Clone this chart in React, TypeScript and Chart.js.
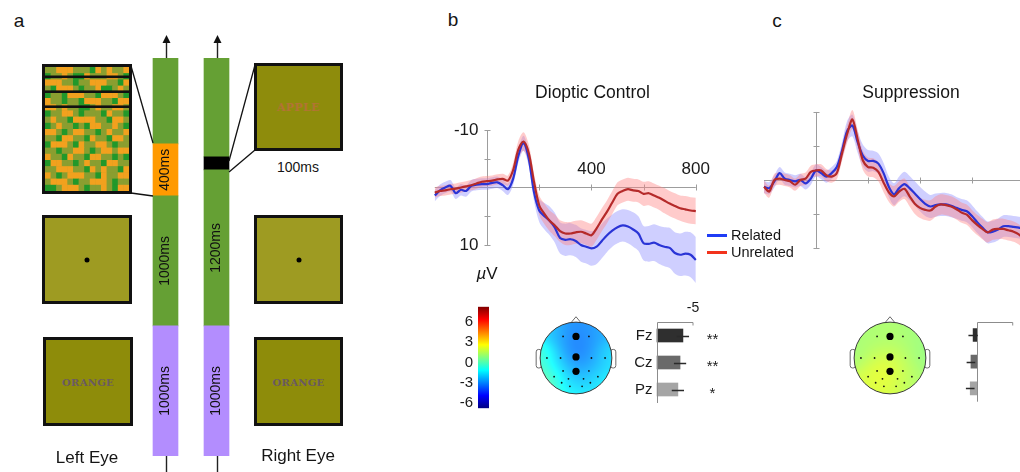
import React, { useEffect, useRef } from "react";
import { Chart, registerables } from "chart.js";

Chart.register(...registerables);

const FONT = '"Liberation Sans", Arial, Helvetica, sans-serif';

// ---------------- ERP data (ms, µV; negative up) ----------------
const TIMES = [-200, -180, -160, -140, -120, -100, -80, -60, -40, -20, 0, 20, 40, 60, 80, 100, 120, 140, 160, 180, 200, 220, 240, 260, 280, 300, 320, 340, 360, 380, 400, 420, 440, 460, 480, 500, 520, 540, 560, 580, 600, 620, 640, 660, 680, 700, 720, 740, 760, 780, 800];

const B_RELATED = [1.4, 0.5, 0.0, -0.3, 1.0, 0.4, 0.6, -0.3, -0.5, -0.6, -0.6, -0.8, -0.9, -0.4, 0.3, -1.5, -5.5, -7.7, -5.0, 0.8, 4.0, 5.0, 5.8, 7.0, 8.8, 9.1, 9.0, 9.3, 10.0, 10.3, 10.6, 10.3, 9.3, 8.3, 7.5, 6.9, 6.6, 6.8, 7.3, 8.0, 9.7, 9.8, 9.6, 10.0, 10.3, 10.5, 11.4, 11.7, 11.5, 11.7, 12.6];
const B_RELATED_SEM = [1.0, 1.0, 1.0, 1.0, 1.0, 1.0, 1.0, 1.0, 1.0, 1.0, 1.0, 1.0, 1.0, 1.0, 1.0, 1.1, 1.2, 1.3, 1.3, 1.5, 2.0, 2.3, 2.5, 2.6, 2.7, 2.8, 2.8, 2.8, 2.9, 2.9, 3.0, 3.0, 3.0, 2.9, 2.8, 2.8, 2.8, 2.9, 3.0, 3.0, 3.0, 3.1, 3.2, 3.3, 3.4, 3.5, 3.6, 3.7, 3.8, 3.9, 4.0];
const B_UNRELATED = [0.9, 0.6, 0.5, 0.3, 0.2, 0.0, -0.2, -0.4, -0.7, -1.0, -1.1, -1.2, -1.4, -1.5, -1.2, -3.0, -6.6, -8.0, -6.0, -1.0, 3.1, 4.6, 5.8, 6.6, 7.6, 8.0, 8.0, 7.8, 7.7, 8.0, 8.3, 7.1, 5.6, 4.2, 2.6, 1.1, 0.6, 0.3, 0.5, 0.6, 1.1, 1.0, 1.4, 1.8, 2.3, 2.8, 3.2, 3.6, 3.8, 4.0, 4.1];
const B_UNRELATED_SEM = [0.9, 0.9, 0.9, 0.9, 0.9, 0.9, 0.9, 0.9, 0.9, 0.9, 0.9, 0.9, 0.9, 0.9, 0.9, 1.2, 1.5, 1.6, 1.5, 1.5, 1.7, 1.8, 1.8, 1.9, 1.9, 2.0, 2.0, 2.0, 2.0, 2.0, 2.0, 2.0, 2.0, 2.0, 2.0, 2.0, 2.0, 2.0, 2.0, 2.0, 2.1, 2.1, 2.1, 2.1, 2.2, 2.2, 2.2, 2.2, 2.3, 2.3, 2.3];

const C_RELATED = [1.0, 1.2, 0.2, -1.0, -0.2, 0.0, 0.2, 0.0, 0.5, -0.2, -1.4, -1.0, -0.5, -1.0, -1.9, -4.3, -7.2, -8.0, -5.6, -3.6, -2.8, -2.8, -2.4, -1.0, 1.0, 2.1, 1.2, 0.6, 1.2, 2.0, 2.8, 3.5, 3.9, 3.7, 3.6, 3.6, 3.8, 4.1, 4.4, 4.6, 5.3, 6.2, 7.0, 7.7, 7.6, 7.3, 6.8, 6.8, 6.9, 7.0, 7.2];
const C_RELATED_SEM = [0.9, 0.9, 0.9, 0.9, 0.9, 0.9, 0.9, 0.9, 0.9, 0.9, 0.9, 0.9, 0.9, 0.9, 0.9, 1.2, 1.5, 1.6, 1.6, 1.6, 1.6, 1.5, 1.5, 1.5, 1.5, 1.6, 1.7, 1.8, 1.8, 1.8, 1.8, 1.8, 1.7, 1.7, 1.7, 1.7, 1.7, 1.6, 1.6, 1.6, 1.6, 1.6, 1.6, 1.6, 1.6, 1.6, 1.6, 1.6, 1.6, 1.6, 1.6];
const C_UNRELATED = [1.0, 1.7, 0.0, -0.2, 0.0, 0.2, 0.7, 0.0, -0.2, -1.2, -1.4, -1.4, -0.7, -0.5, -1.0, -3.9, -6.8, -8.9, -6.0, -2.9, -1.9, -1.8, -1.2, 0.4, 1.8, 2.4, 1.7, 1.3, 2.4, 3.5, 4.1, 4.4, 4.5, 3.9, 3.6, 3.7, 3.9, 4.3, 4.8, 5.1, 5.9, 6.6, 7.2, 7.7, 7.3, 7.2, 7.2, 7.4, 7.6, 8.0, 8.7];
const C_UNRELATED_SEM = [0.9, 0.9, 0.9, 0.9, 0.9, 0.9, 0.9, 0.9, 0.9, 0.9, 0.9, 0.9, 0.9, 0.9, 0.9, 1.1, 1.3, 1.4, 1.4, 1.4, 1.4, 1.4, 1.4, 1.4, 1.4, 1.5, 1.5, 1.5, 1.5, 1.5, 1.5, 1.5, 1.5, 1.5, 1.5, 1.5, 1.5, 1.5, 1.5, 1.5, 1.5, 1.5, 1.5, 1.5, 1.5, 1.5, 1.5, 1.5, 1.5, 1.5, 1.5];

const ERP_X_RANGE = [-200, 800];
const ERP_Y_RANGE = [-10, 10];
const ERP_Y_TICKS = [-10, -5, 5, 10];
const ERP_X_TICKS = [200, 400, 600, 800];
const B_Y_LABELED = [-10, 10];
const B_X_LABELED = [400, 800];

// ---------------- topographies ----------------
const ELEC_NAMES = ["F3", "Fz", "F4", "T7", "C3", "Cz", "C4", "T8", "P3", "Pz", "P4", "P7", "P1", "P2", "P8", "PO3", "PO4", "O1", "O2"];
const ELEC_X = [-0.36, 0, 0.36, -0.81, -0.43, 0, 0.43, 0.81, -0.36, 0, 0.36, -0.61, -0.21, 0.21, 0.61, -0.4, 0.4, -0.17, 0.17];
const ELEC_Y = [0.6, 0.6, 0.6, 0, 0, 0.03, 0, 0, -0.36, -0.37, -0.36, -0.52, -0.58, -0.58, -0.52, -0.69, -0.69, -0.79, -0.79];
const MARKED = ["Fz", "Cz", "Pz"];
const RIM_X = [0, 0.7, 1, 0.7, 0, -0.7, -1, -0.7];
const RIM_Y = [1, 0.7, 0, -0.7, -1, -0.7, 0, 0.7];
const B_TOPO = [-2.8, -3.4, -3.0, -0.8, -2.6, -3.4, -3.0, -1.8, -2.0, -3.2, -2.8, -0.2, -2.4, -2.6, -1.6, -1.0, -1.6, -1.4, -1.6];
const B_RIM = [-2.8, -2.4, -1.4, -0.6, -0.4, 1.8, 0.2, -1.8];
const C_TOPO = [1.2, 1.4, 1.2, 1.1, 1.6, 1.7, 1.4, 1.0, 2.3, 2.3, 1.8, 2.0, 2.6, 2.2, 1.2, 2.0, 1.5, 2.0, 1.7];
const C_RIM = [1.2, 1.0, 0.8, 1.1, 1.8, 1.9, 1.1, 1.2];

const CB_MIN = -6.74;
const CB_MAX = 8.2;
const CB_TICKS = [-6, -3, 0, 3, 6];

// ---------------- bar insets ----------------
const BAR_SITES = ["Fz", "Cz", "Pz"];
const BAR_COLORS = ["#2f2f2f", "#6a6a6a", "#a5a5a5"];
const B_BAR_VALUES = [-3.6, -3.2, -2.9];
const B_BAR_SEM = [0.85, 0.85, 0.85];
const B_BAR_STARS = ["**", "**", "*"];
const C_BAR_VALUES = [0.5, 0.8, 0.9];
const C_BAR_SEM = [0.65, 0.6, 0.6];
const BAR_TICK = -5;

// ---------------- panel a timeline (ms) ----------------
const EYES = ["Left Eye", "Right Eye"];
const SEG_BLANK = [1000, 1000];
const SEG_FIX = [1000, 1200];
const SEG_STIM = [400, 100];
const SEG_REST = [660, 760];
const SEG_LABELS = [["1000ms", "1000ms"], ["1000ms", "1200ms"], ["400ms", ""], ["", ""]];

const MOSAIC_ROWS = [
  "GGoooGGGgoGoGGo",
  "gGGoGggoGGGooGg",
  "oooGGgGGoooGGgo",
  "GgoooGgGGoggGoG",
  "gGGgoooGGgoooGg",
  "oGGgGGgoooGGgoo",
  "ooGoGGggGoGGooG",
  "gGGooGgGGGgoGGg",
  "GoGGgooooGGgooG",
  "gGoGGgGgooGGoGg",
  "ooGgGooGGgGoGGo",
  "GGgooGGgoGGgooG",
  "goooGgoGGooGgGG",
  "GGgGGooGgGooGoo",
  "oGGgoGGgooGGgGg",
  "gooGGgGoGGgooGG",
  "GGoooGGgoGoGGgo",
  "oGgGoooGGgoGGoo",
  "GoooGgGGoooGgGG",
  "ggGoooGgGGoGgoo",
];
const MOSAIC_COLORS: Record<string, string> = { o: "#f2a11e", g: "#21982a", G: "#8a9e30" };

// ---------------- helpers ----------------
function clamp01(v: number) {
  return Math.max(0, Math.min(1, v));
}
function jet(t: number): [number, number, number] {
  t = clamp01(t);
  return [
    Math.round(255 * clamp01(1.5 - Math.abs(4 * t - 3))),
    Math.round(255 * clamp01(1.5 - Math.abs(4 * t - 2))),
    Math.round(255 * clamp01(1.5 - Math.abs(4 * t - 1))),
  ];
}

const baseOptions = {
  animation: false as const,
  responsive: false,
  maintainAspectRatio: false,
  events: [] as any[],
  plugins: { legend: { display: false }, tooltip: { enabled: false }, title: { display: false } },
};

function ChartCanvas(props: { left: number; top: number; width: number; height: number; config: () => any }) {
  const ref = useRef<HTMLCanvasElement>(null);
  useEffect(() => {
    const chart = new Chart(ref.current as HTMLCanvasElement, props.config());
    return () => chart.destroy();
  }, []);
  return (
    <canvas
      ref={ref}
      width={props.width}
      height={props.height}
      style={{ position: "absolute", left: props.left, top: props.top, width: props.width, height: props.height }}
    />
  );
}

// ---------------- ERP chart ----------------
function erpAxesPlugin(yLab: number[], xLab: number[]) {
  return {
    id: "erpAxes",
    beforeDatasetsDraw(chart: any) {
      const { ctx } = chart;
      const X = (v: number) => chart.scales.x.getPixelForValue(v);
      const Y = (v: number) => chart.scales.y.getPixelForValue(v);
      const x0 = Math.round(X(0)) + 0.5;
      const y0 = Math.round(Y(0)) + 0.5;
      ctx.save();
      ctx.strokeStyle = "#9d9d9d";
      ctx.lineWidth = 1;
      ctx.beginPath();
      ctx.moveTo(X(ERP_X_RANGE[0]), y0);
      ctx.lineTo(X(ERP_X_RANGE[1]), y0);
      ctx.moveTo(x0, Y(ERP_Y_RANGE[0]));
      ctx.lineTo(x0, Y(ERP_Y_RANGE[1]));
      ERP_Y_TICKS.forEach((v) => {
        const yy = Math.round(Y(v)) + 0.5;
        ctx.moveTo(x0 - 3, yy);
        ctx.lineTo(x0 + 3, yy);
      });
      ERP_X_TICKS.forEach((v) => {
        const xx = Math.round(X(v)) + 0.5;
        ctx.moveTo(xx, y0 - 3);
        ctx.lineTo(xx, y0 + 3);
      });
      ctx.stroke();
      ctx.fillStyle = "#1a1a1a";
      ctx.font = `17px ${FONT}`;
      ctx.textBaseline = "middle";
      ctx.textAlign = "right";
      yLab.forEach((v) => ctx.fillText(String(v), x0 - 9, Y(v)));
      ctx.textAlign = "center";
      xLab.forEach((v) => ctx.fillText(String(v), X(v), y0 - 18));
      ctx.restore();
    },
  };
}

function erpConfig(
  rel: number[], relSem: number[], unrel: number[], unrelSem: number[],
  xMin: number, xMax: number, yMin: number, yMax: number,
  yLab: number[], xLab: number[]
) {
  const pts = (v: number[]) => TIMES.map((t, i) => ({ x: t, y: v[i] }));
  const off = (a: number[], s: number[], k: number) => a.map((v, i) => v + k * s[i]);
  const band = { borderWidth: 0, pointRadius: 0, tension: 0.3 };
  return {
    type: "line",
    data: {
      datasets: [
        { ...band, order: 6, data: pts(off(rel, relSem, -1)), fill: false },
        { ...band, order: 5, data: pts(off(rel, relSem, 1)), fill: "-1", backgroundColor: "rgba(140,140,255,0.42)" },
        { ...band, order: 4, data: pts(off(unrel, unrelSem, -1)), fill: false },
        { ...band, order: 3, data: pts(off(unrel, unrelSem, 1)), fill: "-1", backgroundColor: "rgba(255,130,130,0.42)" },
        { order: 2, data: pts(rel), borderColor: "#2a34d6", borderWidth: 2.2, pointRadius: 0, tension: 0.3, fill: false },
        { order: 1, data: pts(unrel), borderColor: "#b52a2a", borderWidth: 2.2, pointRadius: 0, tension: 0.3, fill: false },
      ],
    },
    options: {
      ...baseOptions,
      layout: { padding: 0 },
      scales: {
        x: { type: "linear", min: xMin, max: xMax, display: false },
        y: { type: "linear", min: yMin, max: yMax, reverse: true, display: false },
      },
    },
    plugins: [erpAxesPlugin(yLab, xLab)],
  };
}

// ---------------- topography ----------------
function topoPlugin(vals: number[], rim: number[]) {
  return {
    id: "topoField",
    beforeDatasetsDraw(chart: any) {
      const { ctx } = chart;
      const cx = chart.scales.x.getPixelForValue(0);
      const cy = chart.scales.y.getPixelForValue(0);
      const r = chart.scales.x.getPixelForValue(1) - cx;
      ctx.save();
      ctx.strokeStyle = "#6a6a6a";
      ctx.fillStyle = "#ffffff";
      ctx.lineWidth = 1;
      [-1, 1].forEach((s) => {
        const xa = cx + s * r * 0.96;
        const xb = cx + s * r * 1.11;
        ctx.beginPath();
        ctx.roundRect(Math.min(xa, xb), cy - r * 0.24, Math.abs(xb - xa), r * 0.52, 2.5);
        ctx.fill();
        ctx.stroke();
      });
      ctx.beginPath();
      ctx.moveTo(cx - r * 0.15, cy - r * 0.97);
      ctx.lineTo(cx, cy - r * 1.15);
      ctx.lineTo(cx + r * 0.15, cy - r * 0.97);
      ctx.closePath();
      ctx.fill();
      ctx.stroke();

      const px = [...ELEC_X, ...RIM_X];
      const py = [...ELEC_Y, ...RIM_Y];
      const pv = [...vals, ...rim];
      const s2 = 2 * 0.3 * 0.3;
      const lift = 0.14;
      ctx.save();
      ctx.beginPath();
      ctx.arc(cx, cy, r, 0, Math.PI * 2);
      ctx.clip();
      for (let yy = Math.floor(cy - r); yy <= Math.ceil(cy + r); yy++) {
        for (let xx = Math.floor(cx - r); xx <= Math.ceil(cx + r); xx++) {
          const ux = (xx + 0.5 - cx) / r;
          const uy = -(yy + 0.5 - cy) / r;
          let sw = 0;
          let sv = 0;
          for (let k = 0; k < px.length; k++) {
            const d2 = (ux - px[k]) ** 2 + (uy - py[k]) ** 2;
            const w = Math.exp(-d2 / s2);
            sw += w;
            sv += w * pv[k];
          }
          const [R, G, B] = jet((sv / sw - CB_MIN) / (CB_MAX - CB_MIN));
          const m = (c: number) => Math.round(c + (255 - c) * lift);
          ctx.fillStyle = `rgb(${m(R)},${m(G)},${m(B)})`;
          ctx.fillRect(xx, yy, 1, 1);
        }
      }
      ctx.restore();
      ctx.beginPath();
      ctx.arc(cx, cy, r, 0, Math.PI * 2);
      ctx.strokeStyle = "#3a3a3a";
      ctx.lineWidth = 1;
      ctx.stroke();
      ctx.restore();
    },
  };
}

function topoConfig(vals: number[], rim: number[]) {
  const all = ELEC_NAMES.map((n, i) => ({ n, x: ELEC_X[i], y: ELEC_Y[i] }));
  const small = all.filter((e) => !MARKED.includes(e.n));
  const big = all.filter((e) => MARKED.includes(e.n));
  return {
    type: "scatter",
    data: {
      datasets: [
        { data: small.map((e) => ({ x: e.x, y: e.y })), pointRadius: 0.9, pointBackgroundColor: "#111", pointBorderWidth: 0 },
        { data: big.map((e) => ({ x: e.x, y: e.y })), pointRadius: 3.6, pointBackgroundColor: "#000", pointBorderWidth: 0 },
      ],
    },
    options: {
      ...baseOptions,
      layout: { padding: 0 },
      scales: {
        x: { type: "linear", min: -1.282, max: 1.282, display: false },
        y: { type: "linear", min: -1.282, max: 1.282, display: false },
      },
    },
    plugins: [topoPlugin(vals, rim)],
  };
}

// ---------------- colorbar ----------------
const colorbarPlugin = {
  id: "cbLabels",
  afterDatasetsDraw(chart: any) {
    const { ctx, chartArea } = chart;
    ctx.save();
    ctx.fillStyle = "#1a1a1a";
    ctx.font = `15px ${FONT}`;
    ctx.textAlign = "right";
    ctx.textBaseline = "middle";
    CB_TICKS.forEach((v) => ctx.fillText(String(v), chartArea.left - 5, chart.scales.y.getPixelForValue(v)));
    ctx.restore();
  },
};

function colorbarConfig() {
  return {
    type: "bar",
    data: {
      labels: ["µV"],
      datasets: [
        {
          data: [[CB_MIN, CB_MAX]],
          barPercentage: 1,
          categoryPercentage: 1,
          borderWidth: 0,
          backgroundColor: (c: any) => {
            const area = c.chart.chartArea;
            if (!area) return "#00f";
            const g = c.chart.ctx.createLinearGradient(0, area.bottom, 0, area.top);
            for (let i = 0; i <= 16; i++) {
              const [R, G, B] = jet(i / 16);
              g.addColorStop(i / 16, `rgb(${R},${G},${B})`);
            }
            return g;
          },
        },
      ],
    },
    options: {
      ...baseOptions,
      layout: { padding: { left: 38, right: 11, top: 6.7, bottom: 6.7 } },
      scales: {
        x: { display: false },
        y: { min: CB_MIN, max: CB_MAX, display: false },
      },
    },
    plugins: [colorbarPlugin],
  };
}

// ---------------- bar inset ----------------
function barPlugin(values: number[], sem: number[], showText: boolean, stars: string[] | null) {
  return {
    id: "barDeco",
    afterDatasetsDraw(chart: any) {
      const { ctx, chartArea } = chart;
      const X = (v: number) => chart.scales.x.getPixelForValue(v);
      const Y = (i: number) => chart.scales.y.getPixelForValue(i);
      const x0 = Math.round(X(0)) + 0.5;
      const top = Math.round(chartArea.top) + 0.5;
      const xt = X(BAR_TICK);
      ctx.save();
      ctx.strokeStyle = "#8c8c8c";
      ctx.lineWidth = 1;
      ctx.beginPath();
      ctx.moveTo(x0, chartArea.bottom);
      ctx.lineTo(x0, top);
      ctx.lineTo(xt, top);
      ctx.lineTo(xt, top + 3);
      ctx.stroke();
      ctx.strokeStyle = "#2a2a2a";
      ctx.lineWidth = 1.3;
      ctx.beginPath();
      values.forEach((v, i) => {
        const yc = Math.round(Y(i)) + 0.5;
        ctx.moveTo(X(v - sem[i]), yc);
        ctx.lineTo(X(v + sem[i]), yc);
      });
      ctx.stroke();
      ctx.fillStyle = "#1a1a1a";
      ctx.textBaseline = "middle";
      if (showText) {
        ctx.font = `14px ${FONT}`;
        ctx.textAlign = "center";
        ctx.fillText(String(BAR_TICK), xt, chartArea.top - 14);
        ctx.font = `15px ${FONT}`;
        ctx.textAlign = "right";
        BAR_SITES.forEach((s, i) => ctx.fillText(s, x0 - 5, Y(i)));
      }
      if (stars) {
        ctx.font = `15px ${FONT}`;
        ctx.textAlign = "center";
        stars.forEach((s, i) => ctx.fillText(s, x0 + 55, Y(i) + 4));
      }
      ctx.restore();
    },
  };
}

function barConfig(values: number[], sem: number[], xMin: number, xMax: number, padTop: number, padBottom: number, showText: boolean, stars: string[] | null) {
  return {
    type: "bar",
    data: {
      labels: BAR_SITES,
      datasets: [{ data: values, backgroundColor: BAR_COLORS, borderWidth: 0, barThickness: 13 }],
    },
    options: {
      ...baseOptions,
      indexAxis: "y",
      layout: { padding: { top: padTop, bottom: padBottom, left: 0, right: 0 } },
      scales: {
        x: { type: "linear", min: xMin, max: xMax, reverse: true, display: false },
        y: { display: false },
      },
    },
    plugins: [barPlugin(values, sem, showText, stars)],
  };
}

// ---------------- timeline (panel a) ----------------
const timelinePlugin = {
  id: "timelineDeco",
  afterDatasetsDraw(chart: any) {
    const { ctx, chartArea } = chart;
    ctx.save();
    ctx.font = `14px ${FONT}`;
    ctx.fillStyle = "#111";
    ctx.textAlign = "center";
    ctx.textBaseline = "middle";
    SEG_LABELS.forEach((labs, d) => {
      const meta = chart.getDatasetMeta(d);
      labs.forEach((lab, i) => {
        if (!lab) return;
        const el = meta.data[i];
        ctx.save();
        ctx.translate(el.x, (el.y + el.base) / 2);
        ctx.rotate(-Math.PI / 2);
        ctx.fillText(lab, 0, 0);
        ctx.restore();
      });
    });
    const last = chart.getDatasetMeta(SEG_LABELS.length - 1);
    last.data.forEach((el: any) => {
      const x = Math.round(el.x) + 0.5;
      ctx.strokeStyle = "#222";
      ctx.lineWidth = 1.4;
      ctx.beginPath();
      ctx.moveTo(x, el.y);
      ctx.lineTo(x, el.y - 16);
      ctx.moveTo(x, chartArea.bottom);
      ctx.lineTo(x, chartArea.bottom + 20);
      ctx.stroke();
      ctx.fillStyle = "#111";
      ctx.beginPath();
      ctx.moveTo(x, el.y - 23);
      ctx.lineTo(x - 4, el.y - 15);
      ctx.lineTo(x + 4, el.y - 15);
      ctx.closePath();
      ctx.fill();
    });
    ctx.restore();
  },
};

function timelineConfig() {
  const common = { barThickness: 25, borderWidth: 0 };
  return {
    type: "bar",
    data: {
      labels: EYES,
      datasets: [
        { ...common, data: SEG_BLANK, backgroundColor: "#b38dfe" },
        { ...common, data: SEG_FIX, backgroundColor: "#65a034" },
        { ...common, data: SEG_STIM, backgroundColor: ["#ff9a00", "#000000"] },
        { ...common, data: SEG_REST, backgroundColor: "#65a034" },
      ],
    },
    options: {
      ...baseOptions,
      layout: { padding: { left: 10, right: 10, top: 28, bottom: 16 } },
      scales: {
        x: { stacked: true, display: false },
        y: { stacked: true, min: 0, max: 3060, display: false },
      },
    },
    plugins: [timelinePlugin],
  };
}

// ---------------- layout helpers ----------------
function Txt(props: { x: number; y: number; size: number; children: any; align?: "center" | "left"; style?: any }) {
  const align = props.align || "center";
  return (
    <div
      style={{
        position: "absolute",
        left: props.x,
        top: props.y,
        transform: align === "center" ? "translate(-50%, -50%)" : "translate(0, -50%)",
        fontSize: props.size,
        lineHeight: 1,
        whiteSpace: "nowrap",
        color: "#151515",
        ...(props.style || {}),
      }}
    >
      {props.children}
    </div>
  );
}

function Box(props: { left: number; top: number; w: number; h: number; fill: string; children?: any }) {
  return (
    <div
      style={{
        position: "absolute",
        left: props.left,
        top: props.top,
        width: props.w,
        height: props.h,
        boxSizing: "border-box",
        border: "3px solid #111",
        background: props.fill,
        overflow: "hidden",
      }}
    >
      {props.children}
    </div>
  );
}

const wordStyle = {
  position: "absolute" as const,
  left: "50%",
  top: "50%",
  transform: "translate(-50%, -50%)",
  fontFamily: '"DejaVu Serif", serif',
  fontWeight: 700,
  whiteSpace: "nowrap" as const,
};

function Dot() {
  return (
    <div
      style={{ position: "absolute", left: "50%", top: "50%", width: 5, height: 5, borderRadius: "50%", background: "#000", transform: "translate(-50%, -50%)" }}
    />
  );
}

export default function App() {
  const mw = 84 / 15;
  const mh = 124 / 20;
  return (
    <div
      style={{
        position: "absolute",
        left: 0,
        top: 0,
        width: 1020,
        height: 472,
        overflow: "hidden",
        background: "#fff",
        fontFamily: FONT,
      }}
    >
      {/* panel letters */}
      <Txt x={19} y={20} size={19}>a</Txt>
      <Txt x={453} y={19} size={19}>b</Txt>
      <Txt x={777} y={20} size={19}>c</Txt>

      {/* ---------- panel a ---------- */}
      <Box left={42} top={64} w={90} h={130} fill="#8a9e30">
        <svg width={84} height={124} style={{ display: "block" }}>
          {MOSAIC_ROWS.map((row, r) =>
            row.split("").map((ch, c) => (
              <rect key={`${r}-${c}`} x={c * mw} y={r * mh} width={mw + 0.4} height={mh + 0.4} fill={MOSAIC_COLORS[ch]} />
            ))
          )}
          <rect x={0} y={8.5} width={84} height={2.6} fill="#111" />
          <rect x={0} y={23.4} width={84} height={2.6} fill="#111" />
          <rect x={0} y={38.4} width={84} height={2.6} fill="#111" />
        </svg>
      </Box>
      <Box left={254} top={63} w={89} h={88} fill="#8e8c0c">
        <div style={{ ...wordStyle, fontSize: 11, color: "#b27434", letterSpacing: 0.4 }}>APPLE</div>
      </Box>
      <Txt x={298} y={167} size={14}>100ms</Txt>
      <Box left={42} top={215} w={90} h={89} fill="#9e9b22">
        <Dot />
      </Box>
      <Box left={254} top={215} w={89} h={89} fill="#9e9b22">
        <Dot />
      </Box>
      <Box left={43} top={337} w={90} h={89} fill="#8e8c0a">
        <div style={{ ...wordStyle, fontSize: 10, color: "#6a5a62", letterSpacing: 0.3 }}>ORANGE</div>
      </Box>
      <Box left={254} top={337} w={89} h={89} fill="#8e8c0a">
        <div style={{ ...wordStyle, fontSize: 10, color: "#6a5a62", letterSpacing: 0.3 }}>ORANGE</div>
      </Box>
      <ChartCanvas left={130} top={30} width={122} height={442} config={timelineConfig} />
      <svg width={1020} height={472} style={{ position: "absolute", left: 0, top: 0, pointerEvents: "none" }}>
        <line x1={131} y1={66} x2={153} y2={143} stroke="#111" strokeWidth={1.3} />
        <line x1={131} y1={193} x2={153} y2={196} stroke="#111" strokeWidth={1.3} />
        <line x1={229} y1={161} x2={255} y2={65} stroke="#111" strokeWidth={1.3} />
        <line x1={229} y1={172} x2={255} y2={150} stroke="#111" strokeWidth={1.3} />
      </svg>
      <Txt x={87} y={457} size={17}>Left Eye</Txt>
      <Txt x={298} y={455} size={17}>Right Eye</Txt>

      {/* ---------- panel b ---------- */}
      <Txt x={592.5} y={92.5} size={17.5}>Dioptic Control</Txt>
      <ChartCanvas
        left={420}
        top={100}
        width={300}
        height={190}
        config={() => erpConfig(B_RELATED, B_RELATED_SEM, B_UNRELATED, B_UNRELATED_SEM, -256.7, 892.7, -15.22, 17.83, B_Y_LABELED, B_X_LABELED)}
      />
      <Txt x={487} y={273} size={17}>
        <span style={{ fontStyle: "italic" }}>µ</span>V
      </Txt>
      <div style={{ position: "absolute", left: 707, top: 233.5, width: 20, height: 3, background: "#1f3cf5" }} />
      <div style={{ position: "absolute", left: 707, top: 250.5, width: 20, height: 3, background: "#f2331c" }} />
      <Txt x={731} y={235} size={14.5} align="left">Related</Txt>
      <Txt x={731} y={252} size={14.5} align="left">Unrelated</Txt>
      <ChartCanvas left={440} top={300} width={60} height={115} config={colorbarConfig} />
      <ChartCanvas left={526} top={308} width={100} height={100} config={() => topoConfig(B_TOPO, B_RIM)} />
      <ChartCanvas
        left={600}
        top={295}
        width={120}
        height={120}
        config={() => barConfig(B_BAR_VALUES, B_BAR_SEM, -8.75, 7.917, 27, 12, true, B_BAR_STARS)}
      />

      {/* ---------- panel c ---------- */}
      <Txt x={911} y={92.5} size={17.5}>Suppression</Txt>
      <ChartCanvas
        left={740}
        top={100}
        width={280}
        height={190}
        config={() => erpConfig(C_RELATED, C_RELATED_SEM, C_UNRELATED, C_UNRELATED_SEM, -292.3, 784.6, -11.76, 16.18, [], [])}
      />
      <ChartCanvas left={840} top={308} width={100} height={100} config={() => topoConfig(C_TOPO, C_RIM)} />
      <ChartCanvas
        left={900}
        top={295}
        width={120}
        height={120}
        config={() => barConfig(C_BAR_VALUES, C_BAR_SEM, -6.01, 10.65, 26.7, 13.3, false, null)}
      />
    </div>
  );
}
